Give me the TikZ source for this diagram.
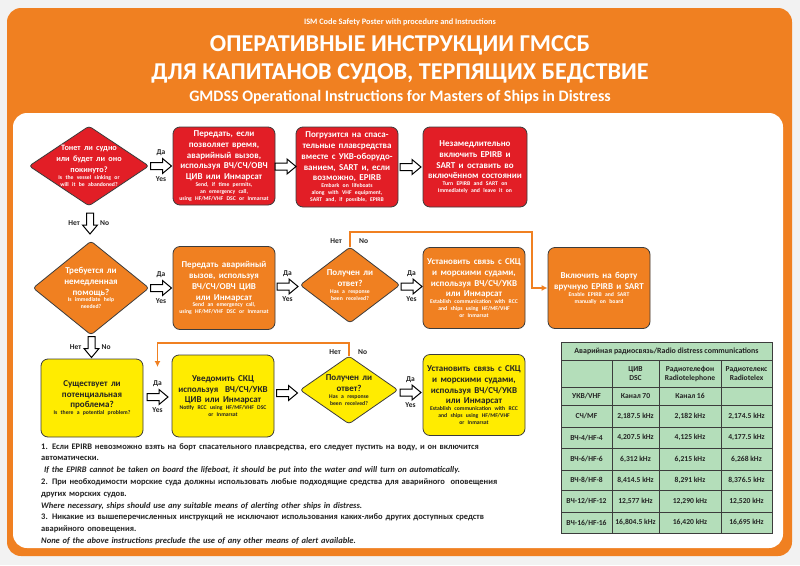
\documentclass[tikz,border=0pt]{standalone}
\usepackage{fontspec}
\setmainfont{Carlito}
\usepackage{tikz}
\usetikzlibrary{calc, positioning}
\usetikzlibrary{shapes.geometric, arrows.meta}
\setlength\parindent{0pt}
\definecolor{ismorange}{RGB}{240,128,33}
\definecolor{ismred}{RGB}{226,30,38}
\definecolor{ismyellow}{RGB}{255,236,0}
\definecolor{tablegreen}{RGB}{180,222,186}
\definecolor{boxline}{RGB}{60,60,60}
\definecolor{pagegray}{RGB}{242,242,242}
\definecolor{inkgray}{RGB}{35,35,35}
% sizes of the two languages in a box
\newcommand\rusz{\fontsize{9}{10.9}\selectfont}
\newcommand\ensz{\fontsize{5.7}{6.9}\selectfont}
\newcommand\twotext[2]{{\rusz #1\par}{\ensz #2\par}}
\tikzset{
  font=\bfseries,
  % Flow box
  box/.style={draw=boxline, line width=0.8pt, rounded corners=7pt,
    minimum width=102pt, minimum height=81pt, text width=100pt,
    align=center, inner sep=1pt},
  redbox/.style={box, fill=ismred, text=white},
  orangebox/.style={box, fill=ismorange, text=white},
  yellowbox/.style={box, fill=ismyellow, text=inkgray},
  % Decision diamond (text goes in dtext on top)
  decision/.style={draw=boxline, line width=0.8pt, shape=diamond,
    rounded corners=3pt, inner sep=0pt},
  dtext/.style={text width=92pt, align=center, inner sep=0pt},
  % Hollow block arrow, pointing right
  hollow/.pic={
    \draw[black, fill=white, line width=1pt, line join=miter]
      (-10.5pt,-3.5pt) -- (1.5pt,-3.5pt) -- (1.5pt,-7.5pt) -- (10.5pt,0pt)
      -- (1.5pt,7.5pt) -- (1.5pt,3.5pt) -- (-10.5pt,3.5pt) -- cycle;
  },
  % Yes/No labels
  lbl/.style={font=\fontsize{7.5}{8}\selectfont\bfseries, text=inkgray,
    inner sep=1pt},
  % Orange return lines
  flow/.style={draw=ismorange, line width=1.8pt,
    -{Latex[length=6pt, width=6pt]}},
  cell/.style={font=\fontsize{7.6}{9}\selectfont\bfseries, text=inkgray,
    align=center, inner sep=0pt},
}

\begin{document}
\begin{tikzpicture}[x=1pt, y=-1pt]
  \useasboundingbox (0,0) rectangle (800,565);
  \fill[pagegray] (0,0) rectangle (800,565);
  \fill[ismorange, rounded corners=14pt] (7,8) rectangle (792,556);
  \fill[white, rounded corners=14pt] (13,113) rectangle (783,548);

  % titles
  \node (t0) [text=white] at (400,22)
    {\fontsize{8.3}{9}\selectfont ISM Code Safety Poster with procedure and Instructions};
  \node (t1) [text=white] at (400,45)
    {\fontsize{24.2}{27}\selectfont ОПЕРАТИВНЫЕ ИНСТРУКЦИИ ГМССБ};
  \node (t2) [text=white] at (400,73)
    {\fontsize{24.2}{27}\selectfont ДЛЯ КАПИТАНОВ СУДОВ, ТЕРПЯЩИХ БЕДСТВИЕ};
  \node (t3) [text=white] at (400,97)
    {\fontsize{16}{18}\selectfont GMDSS Operational Instructions for Masters of Ships in Distress};

  % row 1
  \node (d1) [decision, fill=ismred, minimum width=120pt, minimum height=80pt] at (89,166) {};
  \node (d1t) [dtext, text=white] at (d1)
    {{\fontsize{8.2}{10.8}\selectfont Тонет ли судно\\ или будет ли оно\\ покинуто?\par}{\ensz Is the vessel sinking or\\ will it be abandoned?\par}};
  \node (r1) [redbox, minimum height=78pt] at (224,166)
    {\twotext{Передать, если\\ позволяет время,\\ аварийный вызов,\\ используя ВЧ/СЧ/ОВЧ\\ ЦИВ или Инмарсат}{Send, if time permits,\\ an emergency call,\\ using HF/MF/VHF DSC or Inmarsat}};
  \node (r2) [redbox, minimum height=80pt] at (347,167)
    {\twotext{Погрузится на спаса-\\ тельные плавсредства\\ вместе с УКВ-оборудо-\\ ванием, SART и, если\\ возможно, EPIRB}{Embark on lifeboats\\ along with VHF equipment,\\ SART and, if possible, EPIRB}};
  \node (r3) [redbox, minimum width=104pt, minimum height=80pt] at (475,167)
    {\twotext{Незамедлительно\\ включить EPIRB и\\ SART и оставить во\\ включённом состоянии}{Turn EPIRB and SART on\\ Immediately and leave it on}};

  % row 2
  \node (d2) [decision, fill=ismorange, minimum width=116pt, minimum height=94pt] at (91,288) {};
  \node (d2t) [dtext, text=white] at (d2)
    {\twotext{Требуется ли\\ немедленная\\ помощь?}{Is immediate help\\ needed?}};
  \node (o1) [orangebox, minimum height=83pt] at (224,288)
    {\twotext{Передать аварийный\\ вызов, используя\\ ВЧ/СЧ/ОВЧ ЦИВ\\ или Инмарсат}{Send an emergency call,\\ using HF/MF/VHF DSC or Inmarsat}};
  \node (d3) [decision, fill=ismorange, minimum width=100pt, minimum height=76pt] at (350,285) {};
  \node (d3t) [dtext, text width=70pt, text=white] at (d3)
    {\twotext{Получен ли\\ ответ?}{Has a response\\ been received?}};
  \node (o2) [orangebox, minimum width=101pt] at (474,288)
    {\twotext{Установить связь с СКЦ\\ и морскими судами,\\ используя ВЧ/СЧ/УКВ\\ или Инмарсат}{Establish communication with RCC\\ and ships using HF/MF/VHF\\ or Inmarsat}};
  \node (o3) [orangebox, minimum width=101pt] at (599,288)
    {\twotext{Включить на борту\\ вручную EPIRB и SART}{Enable EPIRB and SART\\ manually on board}};

  % row 3
  \node (y1) [yellowbox, minimum width=100pt, minimum height=78pt] at (92,398)
    {\twotext{Существует ли\\ потенциальная\\ проблема?}{Is there a potential problem?}};
  \node (y2) [yellowbox, minimum width=100pt, minimum height=82pt] at (223,396)
    {\twotext{Уведомить СКЦ\\ используя\ \ ВЧ/СЧ/УКВ\\ ЦИВ или Инмарсат}{Notify RCC using HF/MF/VHF DSC\\ or Inmarsat}};
  \node (d4) [decision, fill=ismyellow, minimum width=98pt, minimum height=68pt] at (349,390) {};
  \node (d4t) [dtext, text width=70pt, text=inkgray] at (d4)
    {\twotext{Получен ли\\ ответ?}{Has a response\\ been received?}};
  \node (y3) [yellowbox, minimum width=101pt] at (474,395)
    {\twotext{Установить связь с СКЦ\\ и морскими судами,\\ используя ВЧ/СЧ/УКВ\\ или Инмарсат}{Establish communication with RCC\\ and ships using HF/MF/VHF\\ or Inmarsat}};

  % hollow arrows, midway between the boxes
  \path (d1.east) -- coordinate (a11) (r1.west);
  \path (r1.east) -- coordinate (a12) (r2.west);
  \path (r2.east) -- coordinate (a13) (r3.west);
  \path (d2.east) -- coordinate (a21) (o1.west);
  \path (o1.east) -- coordinate (a22) (d3.west);
  \path (d3.east) -- coordinate (a23) (o2.west);
  \path (y1.east) -- coordinate (a31) (y2.west);
  \path (y2.east) -- coordinate (a32) (d4.west);
  \path (d4.east) -- coordinate (a33) (y3.west);
  \path (d1.south) -- coordinate (v1) (d2.north);
  \path (d2.south) -- coordinate (v2) (y1.north);
  \foreach \a in {a11, a12, a13, a21, a22, a23, a31, a32, a33}
    \pic at (\a) {hollow};
  \foreach \v in {v1, v2}
    \pic[rotate=-90] at (\v) {hollow};

  % yes / no labels
  \foreach \a in {a11, a21, a22, a23, a31, a33} {
    \node (\a-da) [lbl, above=9pt of \a] {Да};
    \node (\a-yes) [lbl, below=9pt of \a] {Yes};
  }
  \foreach \v in {v1, v2} {
    \node (\v-net) [lbl, left=9pt of \v] {Нет};
    \node (\v-no) [lbl, right=9pt of \v] {No};
  }

  % orange "no" lines
  \coordinate (k1) at ($(o3.west)+(-16,0)$);
  \draw[flow] (d3.north) -- ++(0,-15) -| (k1) -- (o3.west);
  \node (d3-net) [lbl, anchor=east] at ($(d3.north)+(-7,-6)$) {Нет};
  \node (d3-no) [lbl, anchor=west] at ($(d3.north)+(8,-6)$) {No};
  \coordinate (k2) at ($(a31)+(0,-30)$);
  \draw[flow] (d4.north) -- ++(0,-13) -| (k2);
  \node (d4-net) [lbl, anchor=east] at ($(d4.north)+(-7,-4)$) {Нет};
  \node (d4-no) [lbl, anchor=west] at ($(d4.north)+(8,-4)$) {No};

  % distress frequency table
  \fill[tablegreen] (561,342) rectangle (772,533);
  \foreach \yy in {360, 387, 405, 427, 448, 470, 490, 512}
    \draw[boxline, line width=0.6pt] (561,\yy) -- (772,\yy);
  \foreach \xx in {612, 659, 721}
    \draw[boxline, line width=0.6pt] (\xx,360) -- (\xx,533);
  \draw[boxline, line width=0.9pt] (561,342) rectangle (772,533);
  \node (th) [cell, font=\fontsize{7.9}{9}\selectfont\bfseries] at (666.5,351) {Аварийная радиосвязь/Radio distress communications};
  \node (h2) [cell] at (635.5,373.5) {ЦИВ\\ DSC};
  \node (h3) [cell] at (690,373.5) {Радиотелефон\\ Radiotelephone};
  \node (h4) [cell] at (746.5,373.5) {Радиотелекс\\ Radiotelex};
  \foreach \yy/\a/\b/\c/\d [count=\i] in {
      396/{УКВ/VHF}/{Канал 70}/{Канал 16}/{},
      416/{СЧ/MF}/{2,187.5 kHz}/{2,182 kHz}/{2,174.5 kHz},
      437.5/{ВЧ-4/HF-4}/{4,207.5 kHz}/{4,125 kHz}/{4,177.5 kHz},
      459/{ВЧ-6/HF-6}/{6,312 kHz}/{6,215 kHz}/{6,268 kHz},
      480/{ВЧ-8/HF-8}/{8,414.5 kHz}/{8,291 kHz}/{8,376.5 kHz},
      501/{ВЧ-12/HF-12}/{12,577 kHz}/{12,290 kHz}/{12,520 kHz},
      522.5/{ВЧ-16/HF-16}/{16,804.5 kHz}/{16,420 kHz}/{16,695 kHz}} {
    \node (c\i-a) [cell] at (586.5,\yy) {\a};
    \node (c\i-b) [cell] at (635.5,\yy) {\b};
    \node (c\i-c) [cell] at (690,\yy) {\c};
    \node (c\i-d) [cell] at (746.5,\yy) {\d};
  }

  % notes
  \node (notes) [anchor=north west, text width=530pt, align=left, inner sep=0pt,
    text=inkgray, font=\fontsize{8.5}{11.8}\selectfont\bfseries] at (41,443)
    {1. Если EPIRB невозможно взять на борт спасательного плавсредства, его следует пустить на воду, и он включится\\
     автоматически.\\
     {\itshape\ If the EPIRB cannot be taken on board the lifeboat, it should be put into the water and will turn on automatically.}\\
     2. При необходимости морские суда должны использовать любые подходящие средства для аварийного\ \ оповещения\\
     других морских судов.\\
     {\itshape Where necessary, ships should use any suitable means of alerting other ships in distress.}\\
     3. Никакие из вышеперечисленных инструкций не исключают использования каких-либо других доступных средств\\
     аварийного оповещения.\\
     {\itshape None of the above instructions preclude the use of any other means of alert available.}};
\end{tikzpicture}
\end{document}
